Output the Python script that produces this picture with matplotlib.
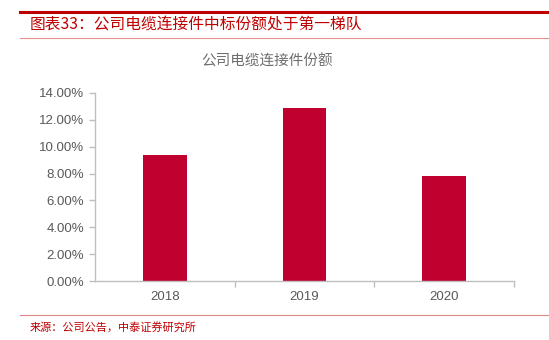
import matplotlib
matplotlib.use("Agg")
import matplotlib.pyplot as plt
from matplotlib.ticker import FuncFormatter
from matplotlib.lines import Line2D

plt.rcParams['font.family'] = ['Liberation Sans', 'Noto Sans CJK SC', 'DejaVu Sans']

years = ['2018', '2019', '2020']
share = [9.35, 12.9, 7.85]

bar_color = '#C0002F'

fig = plt.figure(figsize=(5.49, 3.40), dpi=100)
ax = fig.add_axes([95 / 549, 59 / 340, 419 / 549, 188 / 340])

x = range(len(years))
ax.bar(x, share, width=0.315, color=bar_color, zorder=2)
ax.set_xlim(-0.5, len(years) - 0.5)
ax.set_ylim(0, 14)
ax.set_yticks(range(0, 15, 2))
ax.yaxis.set_major_formatter(FuncFormatter(lambda v, _: f'{v:.2f}%'))
ax.set_xticks(list(x))
ax.set_xticklabels(years)
ax.set_xticks([0.5, 1.5, 2.5], minor=True)

for s in ['top', 'right']:
    ax.spines[s].set_visible(False)
for s in ['left', 'bottom']:
    ax.spines[s].set_color('#BFBFBF')
    ax.spines[s].set_linewidth(1.0)
ax.tick_params(axis='y', colors='#BFBFBF', labelcolor='#595959', labelsize=9.5,
               length=4, width=1, direction='out', pad=4)
ax.tick_params(axis='x', which='major', length=0, labelcolor='#595959', labelsize=9.5, pad=7)
ax.tick_params(axis='x', which='minor', length=4, width=1, colors='#BFBFBF')

# chart subtitle
fig.text(267 / 549, 1 - 62 / 340, '公司电缆连接件份额', family=['Noto Sans CJK SC'],
         fontsize=10.5, color='#6E6E6E', ha='center', va='center')

# header and footer rules
fig.add_artist(Line2D([20 / 549, 1], [1 - 11.5 / 340] * 2, color='#C00000', lw=2.2))
fig.add_artist(Line2D([20 / 549, 1], [1 - 38 / 340] * 2, color='#E89090', lw=0.8))
fig.add_artist(Line2D([20 / 549, 1], [1 - 315 / 340] * 2, color='#E08888', lw=0.8))

fig.text(30 / 549, 1 - 25 / 340, '图表33：公司电缆连接件中标份额处于第一梯队',
         family=['Noto Sans CJK SC'], fontsize=11.3, color='#C00000',
         va='center', ha='left', style='italic')
fig.text(30 / 549, 1 - 327 / 340, '来源：公司公告，中泰证券研究所',
         family=['Noto Sans CJK SC'], fontsize=8, color='#C00000',
         va='center', ha='left')

fig.savefig('out.png', dpi=100)
